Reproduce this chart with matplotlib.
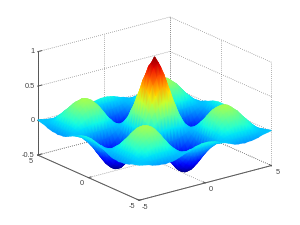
import numpy as np
import matplotlib

matplotlib.use('Agg')
import matplotlib.pyplot as plt
from mpl_toolkits.mplot3d import proj3d

grid_pos = [0, 0.25, 0.5, 0.75, 1, 1.25, 1.5, 1.75, 2, 2.25, 2.5, 2.75, 3, 3.25, 3.5, 3.75, 4, 4.25, 4.5, 4.75, 5]
quarter_z = [
    [1.00, .91, .77, .61, .42, .23, .05, -.11, -.25, -.36, -.43, -.46, -.47, -.44, -.39, -.32, -.24, -.15, -.07, .01, .08],
    [.91, .86, .74, .58, .40, .22, .05, -.11, -.24, -.35, -.41, -.45, -.45, -.43, -.38, -.31, -.23, -.15, -.07, .01, .08],
    [.77, .74, .65, .51, .36, .20, .04, -.10, -.22, -.31, -.37, -.40, -.41, -.38, -.34, -.28, -.21, -.13, -.06, .01, .07],
    [.61, .58, .51, .41, .29, .16, .03, -.08, -.18, -.25, -.31, -.33, -.33, -.32, -.28, -.23, -.17, -.11, -.05, .01, .06],
    [.42, .40, .36, .29, .21, .11, .02, -.06, -.13, -.18, -.22, -.24, -.24, -.23, -.20, -.17, -.13, -.08, -.04, .01, .04],
    [.23, .22, .20, .16, .11, .06, .01, -.03, -.07, -.10, -.13, -.14, -.14, -.13, -.12, -.10, -.07, -.05, -.02, .00, .02],
    [.05, .05, .04, .03, .02, .01, .00, -.01, -.02, -.02, -.03, -.03, -.03, -.03, -.03, -.02, -.02, -.01, -.01, .00, .01],
    [-.11, -.11, -.10, -.08, -.06, -.03, -.01, .02, .04, .05, .07, .07, .07, .07, .06, .05, .04, .03, .01, .00, -.01],
    [-.25, -.24, -.22, -.18, -.13, -.07, -.02, .04, .09, .12, .15, .16, .17, .16, .14, .12, .09, .06, .03, .00, -.03],
    [-.36, -.35, -.31, -.25, -.18, -.10, -.02, .05, .12, .18, .22, .24, .24, .23, .21, .17, .13, .08, .04, -.01, -.05],
    [-.43, -.41, -.37, -.31, -.22, -.13, -.03, .07, .15, .22, .27, .29, .30, .29, .26, .21, .16, .10, .05, -.01, -.06],
    [-.46, -.45, -.40, -.33, -.24, -.14, -.03, .07, .16, .24, .29, .32, .33, .32, .28, .24, .18, .12, .05, -.01, -.06],
    [-.47, -.45, -.41, -.33, -.24, -.14, -.03, .07, .17, .24, .30, .33, .34, .33, .29, .24, .19, .12, .05, -.01, -.07],
    [-.44, -.43, -.38, -.32, -.23, -.13, -.03, .07, .16, .23, .29, .32, .33, .31, .28, .24, .18, .12, .05, -.01, -.06],
    [-.39, -.38, -.34, -.28, -.20, -.12, -.03, .06, .14, .21, .26, .28, .29, .28, .25, .21, .16, .11, .05, -.01, -.06],
    [-.32, -.31, -.28, -.23, -.17, -.10, -.02, .05, .12, .17, .21, .24, .24, .24, .21, .18, .14, .09, .04, -.01, -.05],
    [-.24, -.23, -.21, -.17, -.13, -.07, -.02, .04, .09, .13, .16, .18, .19, .18, .16, .14, .10, .07, .03, -.01, -.04],
    [-.15, -.15, -.13, -.11, -.08, -.05, -.01, .03, .06, .08, .10, .12, .12, .12, .11, .09, .07, .04, .02, .00, -.02],
    [-.07, -.07, -.06, -.05, -.04, -.02, -.01, .01, .03, .04, .05, .05, .05, .05, .05, .04, .03, .02, .01, .00, -.01],
    [.01, .01, .01, .01, .01, .00, .00, .00, .00, -.01, -.01, -.01, -.01, -.01, -.01, -.01, -.01, .00, .00, .00, .00],
    [.08, .08, .07, .06, .04, .02, .01, -.01, -.03, -.05, -.06, -.06, -.07, -.06, -.06, -.05, -.04, -.02, -.01, .00, .01],
]
xy_ticks = [-5, 0, 5]
z_ticks = [-0.5, 0, 0.5, 1]
z_labels = ['-0.5', '0', '0.5', '1']

pos = np.array(grid_pos)
axis = np.concatenate([-pos[:0:-1], pos])
q = np.array(quarter_z)
top = np.hstack([q[:, :0:-1], q])
Z = np.vstack([top[:0:-1], top])
X, Y = np.meshgrid(axis, axis)

rect = [0.005, 0.0037, 1, 1]
fig = plt.figure(figsize=(3, 2.25), dpi=100)
ax = fig.add_axes(rect, projection='3d', computed_zorder=False, proj_type='ortho')
ax.view_init(elev=20, azim=-127.5)
ax.set_box_aspect((1, 1, 0.66), zoom=1.122)
ax.set_xlim(-5, 5)
ax.set_ylim(-5, 5)
ax.set_zlim(-0.5, 1)
ax.set_axis_off()


def dotted(xs, ys, zs):
    ax.plot(xs, ys, zs, color='#666666', lw=0.5, ls=(0, (1, 2)), zorder=1, clip_on=False)


def solid(xs, ys, zs):
    ax.plot(xs, ys, zs, color='#555555', lw=0.7, zorder=3, clip_on=False)


# grid on the two back walls and the floor
for t in xy_ticks:
    dotted([t, t], [5, 5], [-0.5, 1])
    dotted([5, 5], [t, t], [-0.5, 1])
    dotted([t, t], [-5, 5], [-0.5, -0.5])
    dotted([-5, 5], [t, t], [-0.5, -0.5])
for t in z_ticks:
    dotted([-5, 5], [5, 5], [t, t])
    dotted([5, 5], [-5, 5], [t, t])

# axis lines and ticks
solid([-5, 5], [-5, -5], [-0.5, -0.5])
solid([-5, -5], [-5, 5], [-0.5, -0.5])
solid([-5, -5], [5, 5], [-0.5, 1])
for t in xy_ticks:
    solid([t, t], [-5, -4.8], [-0.5, -0.5])
    solid([-5, -4.8], [t, t], [-0.5, -0.5])
for t in z_ticks:
    solid([-5, -4.7], [5, 5], [t, t])

# smooth surface: triangles sorted far to near, drawn on an overlay axes
M = ax.get_proj()
xp, yp, zp = proj3d.proj_transform(X.ravel(), Y.ravel(), Z.ravel(), M)
n = len(axis)
idx = np.arange(n * n).reshape(n, n)
a, b, c, d = idx[:-1, :-1].ravel(), idx[:-1, 1:].ravel(), idx[1:, 1:].ravel(), idx[1:, :-1].ravel()
tris = np.vstack([np.column_stack([a, b, c]), np.column_stack([a, c, d])])
tris = tris[np.argsort(-zp[tris].mean(axis=1))]

ax2 = fig.add_axes(rect, frameon=False)
ax2.set_axis_off()
ax2.tripcolor(xp, yp, tris, Z.ravel(), shading='gouraud', cmap='jet', vmin=-0.47, vmax=1,
              transform=ax.transData, clip_on=False)


def label(txt, x, y, z, dx, dy, ha):
    x2, y2, _ = proj3d.proj_transform(x, y, z, M)
    ax.annotate(txt, (x2, y2), xytext=(dx, dy), textcoords='offset pixels', ha=ha, va='center',
                family='Liberation Sans', fontsize=5.3, color='#444444', annotation_clip=False)


for t in xy_ticks:
    label(str(t), t, -5, -0.5, 6, -7, 'center')
    label(str(t), -5, t, -0.5, -7, -6, 'center')
for t, lab in zip(z_ticks, z_labels):
    label(lab, -5, 5, t, -3, 0, 'right')

fig.savefig('out.png', dpi=100)
